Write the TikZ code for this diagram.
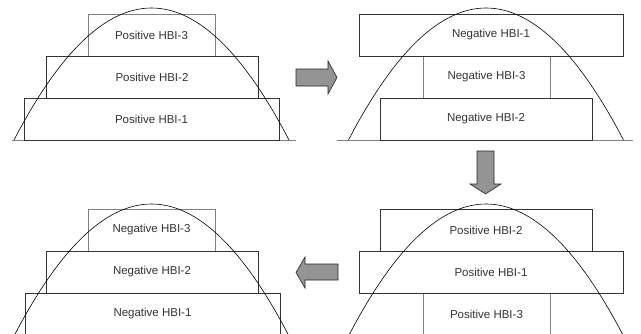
\documentclass[tikz,border=0pt]{standalone}
\usepackage{fontspec}
\setmainfont{Liberation Sans}
\begin{document}
\begin{tikzpicture}[x=1pt,y=-1pt,
  box/.style={draw=black!80, line width=0.8pt, fill=white, inner sep=0pt,
    font=\fontsize{11.5}{14}\selectfont, text=black!80},
  gbox/.style={box, draw=black!50},
  para/.style={draw=black, line width=0.6pt},
  baseline/.style={draw=black!50, line width=1pt},
  blockarrow/.style={draw=black!85, line width=0.6pt, fill=black!42}]
\useasboundingbox (0,0) rectangle (641,333);
\clip (0,0) rectangle (641,333);
% ---------- panel 1 (top left)
\draw[baseline] (12,140) -- (296,140);
\node[gbox, minimum width=127, minimum height=42] (p1a) at (151.5,35) {Positive HBI-3};
\node[box, minimum width=212, minimum height=42] (p1b) at (152,77) {Positive HBI-2};
\node[box, minimum width=255, minimum height=42] (p1c) at (151.5,119) {Positive HBI-1};
\draw[para] (14,140) .. controls (105.67,-36) and (197.33,-36) .. (289,140);
% ---------- panel 2 (top right)
\draw[baseline] (337,140) -- (633,140);
\node[gbox, minimum width=127, minimum height=42] (p2b) at (486.5,77) {Negative HBI-3};
\node[box, minimum width=264, minimum height=42] (p2a) at (491,35) {Negative HBI-1};
\node[box, minimum width=212, minimum height=42] (p2c) at (486,119) {Negative HBI-2};
\draw[para, shift={(334.5,0)}] (14,140) .. controls (105.67,-36) and (197.33,-36) .. (289,140);
% ---------- panel 3 (bottom left)
\node[gbox, minimum width=127, minimum height=42] (p3a) at (151.5,230) {Negative HBI-3};
\node[box, minimum width=212, minimum height=42] (p3b) at (152,272) {Negative HBI-2};
\node[box, minimum width=255, minimum height=42] (p3c) at (152.5,314) {Negative HBI-1};
\draw[para, shift={(0,196)}] (14,140) .. controls (105.67,-36) and (197.33,-36) .. (289,140);
% ---------- panel 4 (bottom right)
\node[gbox, minimum width=127, minimum height=42] (p4c) at (486.5,314) {Positive HBI-3};
\node[box, minimum width=212, minimum height=42] (p4a) at (486,230) {Positive HBI-2};
\node[box, minimum width=264, minimum height=42] (p4b) at (491,272) {Positive HBI-1};
\draw[para, shift={(334.5,196)}] (14,140) .. controls (105.67,-36) and (197.33,-36) .. (289,140);
% ---------- block arrows
\draw[blockarrow] (296,69) -- (328,69) -- (328,61) -- (337,77.5) -- (328,94) -- (328,86) -- (296,86) -- cycle;
\draw[blockarrow] (477,151) -- (494,151) -- (494,184) -- (501,184) -- (485.5,194) -- (470,184) -- (477,184) -- cycle;
\draw[blockarrow] (338,264) -- (305,264) -- (305,257) -- (296,272.5) -- (305,288) -- (305,280) -- (338,280) -- cycle;
\end{tikzpicture}
\end{document}
